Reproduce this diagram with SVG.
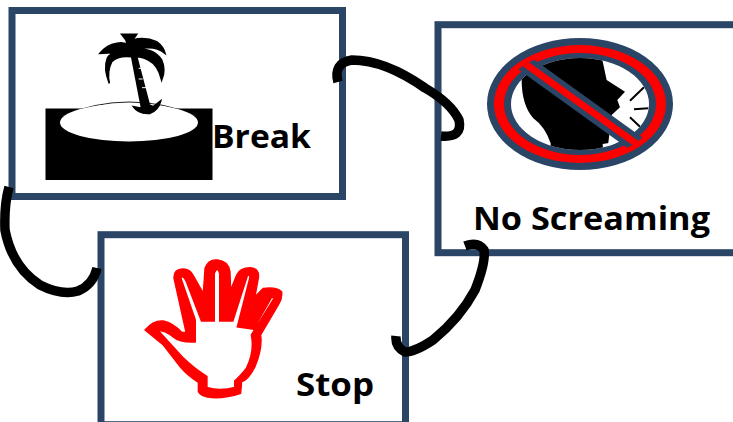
<svg xmlns="http://www.w3.org/2000/svg" width="733" height="422" viewBox="0 0 733 422">
<style>
.box{fill:#fff;stroke:#2a4566;stroke-width:7}
.lbl{font-family:"Open Sans","Liberation Sans",sans-serif;font-weight:700;fill:#000;font-size:33px}
.conn{fill:none;stroke:#000;stroke-width:9.500;stroke-linecap:butt}
</style>
<defs>
<clipPath id="inner"><ellipse cx="580" cy="104" rx="69" ry="46"/></clipPath>
<clipPath id="ring"><ellipse cx="580" cy="104" rx="80" ry="54"/></clipPath>
</defs>
<rect width="733" height="422" fill="#fff"/>
<g id="break">
<rect class="box" x="12" y="10.500" width="330.500" height="186"/>
<rect x="45.500" y="108.500" width="167" height="71.500" fill="#000"/>
<path d="M62 116Q95 102 129 102Q165 102 196 116" fill="none" stroke="#222" stroke-width="1"/>
<ellipse cx="129" cy="122.500" rx="69" ry="19" fill="#fff"/>
<g transform="translate(90 25) scale(.3333)">
<path d="M95 28L140 28L128 45Q165 35 200 50Q220 65 225 85Q195 60 145 72Q195 72 215 105Q228 135 215 165Q205 120 175 105Q155 95 140 95L178 240L190 245L212 228Q205 255 180 265Q145 268 130 245L155 250L125 95Q85 90 65 110Q50 140 58 175Q40 130 52 100Q58 85 85 82L30 85Q50 60 80 55Q100 50 112 60L108 45Z" fill="#000" stroke="#000" stroke-width="5"/>
<path d="M146 130L156 130M146 162L158 162M156 188L170 188" stroke="#fff" stroke-width="3" fill="none"/>
</g>
<text class="lbl" x="212" y="148" textLength="99" lengthAdjust="spacingAndGlyphs">Break</text>
</g>
<g id="no-screaming">
<rect class="box" x="438" y="24.700" width="300" height="228"/>
<ellipse cx="580" cy="104" rx="93" ry="66" fill="#2a4566"/>
<ellipse cx="580" cy="104" rx="86" ry="59" fill="#f00"/>
<ellipse cx="580" cy="104" rx="76" ry="51" fill="#2a4566"/>
<ellipse cx="580" cy="104" rx="69" ry="46" fill="#fff"/>
<g clip-path="url(#inner)">
<g transform="translate(480 30) scale(.3333)">
<path d="M125 80L365 80L380 150L435 185L412 210L420 232L395 255L380 380L212 380L212 340Q195 290 160 265Q125 225 125 150Z" fill="#000"/>
<path d="M368 342L410 335L400 352L370 365Z" fill="#fff"/>
<path d="M450 212L492 172M462 238L505 235M450 262L480 290" stroke="#000" stroke-width="6" fill="none"/>
</g>
</g>
<g clip-path="url(#ring)">
<path d="M520 60L645 150" stroke="#2a4566" stroke-width="17" fill="none"/>
<path d="M520 60L645 150" stroke="#f00" stroke-width="7" fill="none"/>
</g>
<text class="lbl" x="473" y="230" textLength="237" lengthAdjust="spacingAndGlyphs">No Screaming</text>
</g>
<g id="stop">
<rect class="box" x="101" y="234.700" width="304.500" height="190"/>
<g transform="translate(140 255) scale(.3333)">
<path d="M15 225Q40 195 70 198Q100 205 125 232L138 232L102 70Q100 42 130 42Q150 42 160 62L190 115L195 40Q205 12 232 15Q265 18 270 50L272 105L290 60Q300 38 330 38Q360 40 355 70L345 125L370 100Q410 95 425 110Q428 130 415 150L362 240Q368 280 345 335Q325 375 305 380L302 415Q260 430 215 428Q180 425 175 410L175 382Q140 360 120 335L70 270Z" fill="#f00" stroke="#f00" stroke-width="4" stroke-linejoin="round"/>
<path d="M52 225Q75 225 100 245Q120 262 165 260L165 195L122 70Q128 55 140 80L185 197L222 197L222 55Q232 30 240 55L240 197L278 197L322 60Q332 58 330 70L293 215L340 222L395 125Q405 128 400 135L335 240Q345 290 320 340Q300 365 285 378L285 398Q240 410 200 398L200 365Q160 340 130 310Z" fill="#fff" stroke="#f00" stroke-width="6"/>
</g>
<text class="lbl" x="296" y="396" textLength="78" lengthAdjust="spacingAndGlyphs">Stop</text>
</g>
<g id="connectors">
<path class="conn" d="M338 82Q333 63 352 60Q385 60 425 88Q451 103 459 120Q463 138 441 136"/>
<path class="conn" d="M9 187Q4 205 5 230Q12 267 40 285Q62 296 78 291Q93 285 97 268"/>
<path class="conn" d="M465 246Q478 241 484 250Q486 262 475 290Q460 318 433 340Q415 352 405 352Q395 347 396 336"/>
</g>
</svg>
